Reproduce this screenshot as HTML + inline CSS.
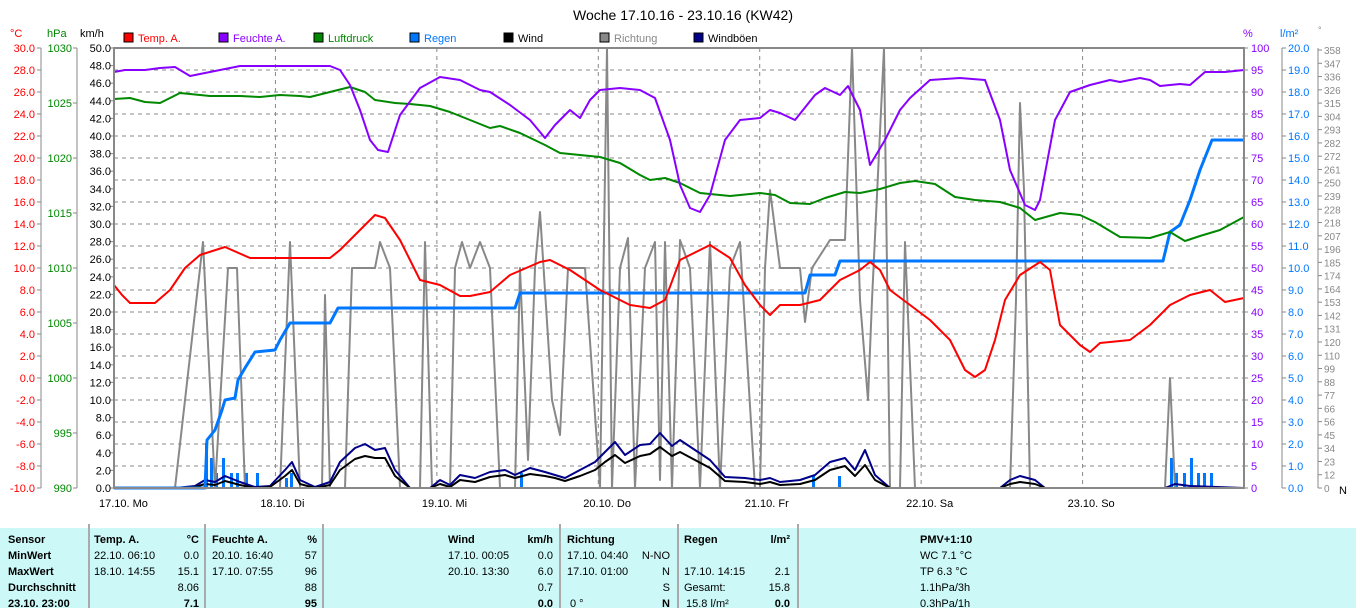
<!DOCTYPE html>
<html><head><meta charset="utf-8"><style>
body{margin:0;background:#fff;width:1356px;height:608px;overflow:hidden;font-family:"Liberation Sans",sans-serif}
svg text{font-family:"Liberation Sans",sans-serif}
#tb{position:absolute;left:0;top:528px;width:1356px;height:80px;background:#ccf9f7;font-size:11px}
#tb div{position:absolute;white-space:nowrap}
.b{font-weight:bold}
.sep{position:absolute;top:-4px;width:2px;height:84px;background:#aaa}
</style></head><body>
<svg id="s" width="1356" height="528" style="position:absolute;left:0;top:0"></svg>
<div id="tb"></div>
<script>
const S=document.getElementById('s');let h='';
const L=114,R=1244,T=48,B=488;
h+=`<text x="683" y="20" font-size="14" text-anchor="middle">Woche 17.10.16 - 23.10.16 (KW42)</text>`;
// grid
for(let i=1;i<20;i++){let y=T+i*22;h+=`<line x1="${L}" x2="${R}" y1="${y}" y2="${y}" stroke="#888" stroke-dasharray="4,4"/>`;}
for(let d=1;d<7;d++){let x=L+d*161.43;h+=`<line x1="${x}" x2="${x}" y1="${T}" y2="${B}" stroke="#888" stroke-dasharray="4,4"/>`;}
const days=["17.10. Mo","18.10. Di","19.10. Mi","20.10. Do","21.10. Fr","22.10. Sa","23.10. So"];
days.forEach((d,i)=>{h+=`<text x="${L+i*161.43-15}" y="507" font-size="11">${d}</text>`});
h+=`<text x="1339" y="494" font-size="11">N</text>`;
// left axes
h+=`<text x="10" y="37" font-size="11" fill="#f00">°C</text><text x="47" y="37" font-size="11" fill="#080">hPa</text><text x="80" y="37" font-size="11">km/h</text>`;
h+=`<line x1="41" x2="41" y1="${T}" y2="${B}" stroke="#888"/><line x1="77" x2="77" y1="${T}" y2="${B}" stroke="#888"/>`;
for(let i=0;i<=20;i++){let y=T+i*22,v=(30-i*2).toFixed(1);h+=`<line x1="37" x2="41" y1="${y}" y2="${y}" stroke="#888"/><text x="35" y="${y+4}" font-size="11" fill="#f00" text-anchor="end">${v}</text>`;}
for(let i=0;i<=8;i++){let y=T+i*55,v=1030-i*5;h+=`<line x1="73" x2="77" y1="${y}" y2="${y}" stroke="#888"/><text x="72" y="${y+4}" font-size="11" fill="#080" text-anchor="end">${v}</text>`;}
for(let i=0;i<=25;i++){let y=T+i*17.6,v=(50-i*2).toFixed(1);h+=`<line x1="${L-4}" x2="${L}" y1="${y}" y2="${y}" stroke="#888"/><text x="${L-3}" y="${y+4}" font-size="11" text-anchor="end">${v}</text>`;}
// right axes
h+=`<text x="1243" y="37" font-size="11" fill="#80f">%</text><text x="1280" y="37" font-size="11" fill="#07f">l/m²</text><text x="1318" y="33" font-size="9" fill="#888">°</text>`;
h+=`<line x1="1282" x2="1282" y1="${T}" y2="${B}" stroke="#888"/><line x1="1318" x2="1318" y1="${T}" y2="${B}" stroke="#888"/>`;
for(let i=0;i<=20;i++){let y=T+i*22;h+=`<line x1="${R}" x2="${R+4}" y1="${y}" y2="${y}" stroke="#888"/><text x="${R+7}" y="${y+4}" font-size="11" fill="#80f">${(100-i*5).toFixed(1).replace('.0','')}</text>`;
h+=`<line x1="1282" x2="1286" y1="${y}" y2="${y}" stroke="#888"/><text x="1288" y="${y+4}" font-size="11" fill="#07f">${(20-i).toFixed(1)}</text>`;}
const deg=[358,347,336,326,315,304,293,282,272,261,250,239,228,218,207,196,185,174,164,153,142,131,120,110,99,88,77,66,56,45,34,23,12,0];
deg.forEach((v,i)=>{let y=T+2+i*(B-T-2)/33;h+=`<line x1="1318" x2="1322" y1="${y}" y2="${y}" stroke="#888"/><text x="1324" y="${y+4}" font-size="10" fill="#888">${v}</text>`});
// legend
[["Temp. A.","#f00",124],["Feuchte A.","#80f",219],["Luftdruck","#080",314],["Regen","#07f",410],["Wind","#000",504],["Richtung","#888",600],["Windböen","#008",694]].forEach(([t,c,x])=>{
h+=`<rect x="${x}" y="33" width="9" height="9" fill="${c}" stroke="#000"/><text x="${x+14}" y="42" font-size="11" fill="${c=='#000'||c=='#008'?'#000':c}">${t}</text>`});
function pl(a,c,w){let p=[];for(let i=0;i<a.length;i+=2)p.push(a[i]+','+a[i+1]);h+=`<polyline points="${p.join(' ')}" fill="none" stroke="${c}" stroke-width="${w}" stroke-linejoin="round"/>`;}
// rain bars
[205,210,215,222,230,236,245,256,285,290,520,812,838,1170,1175,1183,1190,1197,1203,1210].forEach((x,i)=>{let hh=[45,30,15,30,15,15,15,15,10,15,15,12,12,30,15,15,30,15,15,15][i];h+=`<rect x="${x}" y="${B-hh}" width="3" height="${hh}" fill="#07f"/>`});
// direction
pl([114,488,175,488,203,242,215,488,228,268,237,268,245,488,280,488,290,242,300,488,322,488,325,295,330,488,345,488,352,268,375,268,380,242,390,268,400,488,420,488,425,242,432,488,450,488,455,268,462,242,470,268,480,242,490,268,500,488,515,488,520,268,528,460,535,268,540,212,552,400,560,435,568,268,585,268,600,488,607,48,612,488,620,268,628,238,635,488,645,268,655,242,660,480,665,242,672,488,680,240,690,268,700,488,710,242,720,488,730,268,740,242,755,488,760,488,765,268,770,190,780,268,800,268,805,322,812,268,830,240,845,240,852,48,860,300,868,400,872,300,884,48,890,488,900,488,905,242,915,488,1010,488,1016,300,1020,103,1024,190,1030,488,1165,488,1170,378,1175,488,1244,488],"#888",2);
// wind gust & wind
pl([114,488,175,488,195,486,205,480,215,482,225,476,240,482,255,487,270,486,285,470,292,462,300,480,315,487,330,482,340,462,355,448,365,444,375,450,385,448,395,470,410,488,430,488,440,480,450,485,460,475,475,478,490,472,505,470,515,475,530,468,545,472,555,475,565,478,580,470,595,462,605,452,615,442,625,455,640,445,650,444,660,433,672,446,680,440,695,450,710,460,725,477,745,478,760,480,770,478,780,482,800,480,815,475,830,462,845,458,855,470,865,450,875,475,890,488,1000,488,1010,480,1020,476,1035,480,1045,488,1165,488,1175,484,1190,486,1244,488],"#008",2);
pl([114,488,175,488,195,487,205,484,215,485,225,481,240,485,255,488,270,487,285,476,292,470,300,484,315,488,330,485,340,470,355,459,365,456,375,458,385,458,395,476,410,488,430,488,440,484,450,487,460,480,475,482,490,477,505,475,515,478,530,474,545,476,555,478,565,481,580,476,595,470,605,462,615,455,625,463,640,456,650,454,660,447,672,456,680,452,695,460,710,468,725,481,745,482,760,484,770,482,780,485,800,484,815,480,830,470,845,466,855,476,865,465,875,480,890,488,1000,488,1010,484,1020,482,1035,484,1045,488,1244,488],"#000",2);
// rain cumulative
pl([114,488,205,488,207,440,215,430,222,410,225,400,235,398,238,380,245,368,255,352,275,350,280,340,290,323,330,323,338,308,515,308,520,293,805,293,810,275,835,275,840,261,1163,261,1170,232,1180,225,1190,200,1200,170,1212,140,1244,140],"#07f",3);
// pressure
pl([114,99,130,98,145,102,160,103,180,93,210,96,240,96,260,97,280,95,300,96,310,97,330,92,350,87,365,92,375,100,395,103,410,104,430,106,450,112,470,120,490,128,500,126,520,133,545,145,560,153,580,155,600,157,620,163,640,175,650,180,665,178,680,183,700,193,730,196,760,193,775,195,790,203,810,204,825,198,845,192,860,193,880,189,900,183,915,181,935,184,955,197,975,200,1000,202,1020,208,1035,220,1060,213,1080,215,1095,222,1120,237,1150,238,1170,232,1185,241,1200,236,1220,230,1244,217],"#080",2);
// humidity
pl([114,72,125,70,145,70,160,68,175,67,190,76,210,72,240,66,330,66,340,70,350,85,360,110,370,140,378,150,388,152,400,115,420,88,440,77,460,80,480,90,490,92,510,105,530,120,545,138,555,125,570,110,580,118,590,100,600,90,620,88,640,90,655,98,670,140,680,185,690,208,700,212,710,195,725,140,740,120,760,118,770,110,780,113,795,120,815,95,825,88,840,95,848,86,860,110,870,165,885,140,900,110,910,98,930,80,960,78,985,80,1000,120,1010,170,1025,205,1035,210,1040,200,1055,120,1070,92,1090,85,1110,80,1120,82,1140,78,1150,80,1160,86,1180,84,1190,85,1205,72,1225,72,1244,70],"#80f",2);
// temp
pl([114,285,122,295,130,303,155,303,170,290,185,268,200,255,225,247,250,258,330,258,340,250,360,230,375,215,385,218,400,240,420,280,440,285,460,296,470,296,490,292,510,275,540,262,550,260,570,270,600,290,630,305,650,308,665,300,680,260,700,250,710,245,730,258,745,285,760,305,770,315,780,305,800,305,820,300,840,280,860,270,870,262,880,270,890,290,910,305,930,320,950,340,965,370,975,377,985,370,995,340,1005,300,1020,275,1040,262,1050,270,1060,325,1080,345,1090,352,1100,343,1130,340,1150,325,1170,305,1190,295,1210,290,1225,302,1244,298],"#f00",2);
h+=`<rect x="${L}" y="${T}" width="${R-L}" height="${B-T}" fill="none" stroke="#888" stroke-width="2"/>`;
S.innerHTML=h;
const tb=document.getElementById('tb');let t='';
const c=(x,y,s,cls,al)=>{t+=`<div class="${cls||''}" style="${al?'right:'+(1356-x)+'px':'left:'+x+'px'};top:${y}px">${s}</div>`};
[88,204,322,559,677,797].forEach(x=>t+=`<div class="sep" style="left:${x}px"></div>`);
const ys=[6,22,38,54,70];
["Sensor","MinWert","MaxWert","Durchschnitt","23.10. 23:00"].forEach((s,i)=>c(8,ys[i],s,'b'));
c(94,6,"Temp. A.",'b');c(199,6,"°C",'b',1);c(94,22,"22.10. 06:10");c(199,22,"0.0",'',1);c(94,38,"18.10. 14:55");c(199,38,"15.1",'',1);c(199,54,"8.06",'',1);c(199,70,"7.1",'b',1);
c(212,6,"Feuchte A.",'b');c(317,6,"%",'b',1);c(212,22,"20.10. 16:40");c(317,22,"57",'',1);c(212,38,"17.10. 07:55");c(317,38,"96",'',1);c(317,54,"88",'',1);c(317,70,"95",'b',1);
c(448,6,"Wind",'b');c(553,6,"km/h",'b',1);c(448,22,"17.10. 00:05");c(553,22,"0.0",'',1);c(448,38,"20.10. 13:30");c(553,38,"6.0",'',1);c(553,54,"0.7",'',1);c(553,70,"0.0",'b',1);
c(567,6,"Richtung",'b');c(567,22,"17.10. 04:40");c(670,22,"N-NO",'',1);c(567,38,"17.10. 01:00");c(670,38,"N",'',1);c(670,54,"S",'',1);c(570,70,"0 °");c(670,70,"N",'b',1);
c(684,6,"Regen",'b');c(790,6,"l/m²",'b',1);c(684,38,"17.10. 14:15");c(790,38,"2.1",'',1);c(684,54,"Gesamt:");c(790,54,"15.8",'',1);c(686,70,"15.8 l/m²");c(790,70,"0.0",'b',1);
c(920,6,"PMV+1:10",'b');c(920,22,"WC 7.1 °C");c(920,38,"TP 6.3 °C");c(920,54,"1.1hPa/3h");c(920,70,"0.3hPa/1h");
tb.innerHTML=t;
</script>
</body></html>
